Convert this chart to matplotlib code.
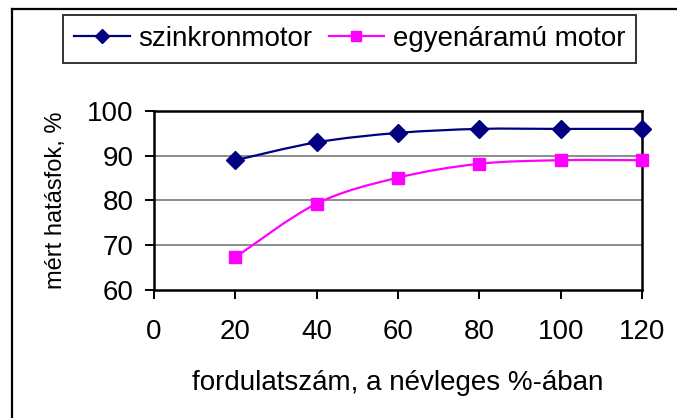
import numpy as np
import matplotlib
matplotlib.use("Agg")
import matplotlib.pyplot as plt
from matplotlib.path import Path
from matplotlib.patches import PathPatch
from matplotlib.lines import Line2D

plt.rcParams['font.family'] = ['Liberation Sans', 'DejaVu Sans']

# data
fordulat = [20, 40, 60, 80, 100, 120]
szinkron = [89, 93, 95.1, 96, 96, 96]
egyenaram = [67.3, 79.3, 85.1, 88.2, 89, 89]

x_ticks = [0, 20, 40, 60, 80, 100, 120]
y_ticks = [60, 70, 80, 90, 100]

series_names = ['szinkronmotor', 'egyenáramú motor']


def smooth_path(xs, ys):
    # Excel-like smoothed line: Catmull-Rom converted to cubic Bezier
    pts = np.column_stack([xs, ys]).astype(float)
    verts = [pts[0]]
    codes = [Path.MOVETO]
    n = len(pts)
    for i in range(n - 1):
        p0 = pts[i - 1] if i > 0 else pts[i]
        p1 = pts[i]
        p2 = pts[i + 1]
        p3 = pts[i + 2] if i + 2 < n else pts[i + 1]
        c1 = p1 + (p2 - p0) / 6.0
        c2 = p2 - (p3 - p1) / 6.0
        verts += [c1, c2, p2]
        codes += [Path.CURVE4] * 3
    return Path(verts, codes)


fig = plt.figure(figsize=(6.77, 4.18), dpi=100)
ax = fig.add_axes([154 / 677, 1 - 290 / 418, 488 / 677, 179 / 418])

ax.set_xlim(0, 120)
ax.set_ylim(60, 100)
ax.set_xticks(x_ticks)
ax.set_yticks(y_ticks)

for v in y_ticks[1:-1]:
    ax.axhline(v, color='#8c8c8c', lw=1.4, zorder=1)

styles = [('#000080', 'D', 9), ('#ff00ff', 's', 8.5)]
for ys, (col, mk, ms) in zip([szinkron, egyenaram], styles):
    patch = PathPatch(smooth_path(fordulat, ys), facecolor='none', edgecolor=col,
                      lw=1.6, zorder=3, clip_on=False)
    ax.add_patch(patch)
    ax.plot(fordulat, ys, linestyle='none', marker=mk, ms=ms, color=col,
            markeredgecolor=col, zorder=4, clip_on=False)

for s in ax.spines.values():
    s.set_linewidth(1.8)
    s.set_color('black')

ax.tick_params(axis='both', direction='out', length=6.5, width=1.4,
               labelsize=20, colors='black')
ax.tick_params(axis='x', pad=14.5)
ax.tick_params(axis='y', pad=8)

ax.set_xlabel('fordulatszám, a névleges %-ában', fontsize=20, labelpad=18)
ax.set_ylabel('mért hatásfok, %', fontsize=17, labelpad=15)

handles = [Line2D([], [], color=c, marker=m, ms=7, lw=1.6) for c, m, _ in styles]
leg = fig.legend(handles, series_names, loc='center', ncol=2,
                 bbox_to_anchor=(349.5 / 677, 1 - 39 / 418),
                 fontsize=20, frameon=True, fancybox=False, shadow=False,
                 handlelength=2.0, handletextpad=0.3, columnspacing=0.6,
                 borderpad=0.38, borderaxespad=0)
leg.get_frame().set_edgecolor('black')
leg.get_frame().set_linewidth(1.4)

# outer chart border (left and top edges visible)
fig.add_artist(Line2D([12 / 677, 12 / 677], [0, 1 - 9 / 418], color='black',
                      lw=1.6, transform=fig.transFigure))
fig.add_artist(Line2D([12 / 677, 1], [1 - 9 / 418, 1 - 9 / 418], color='black',
                      lw=1.6, transform=fig.transFigure))

fig.savefig('out.png', dpi=100)
